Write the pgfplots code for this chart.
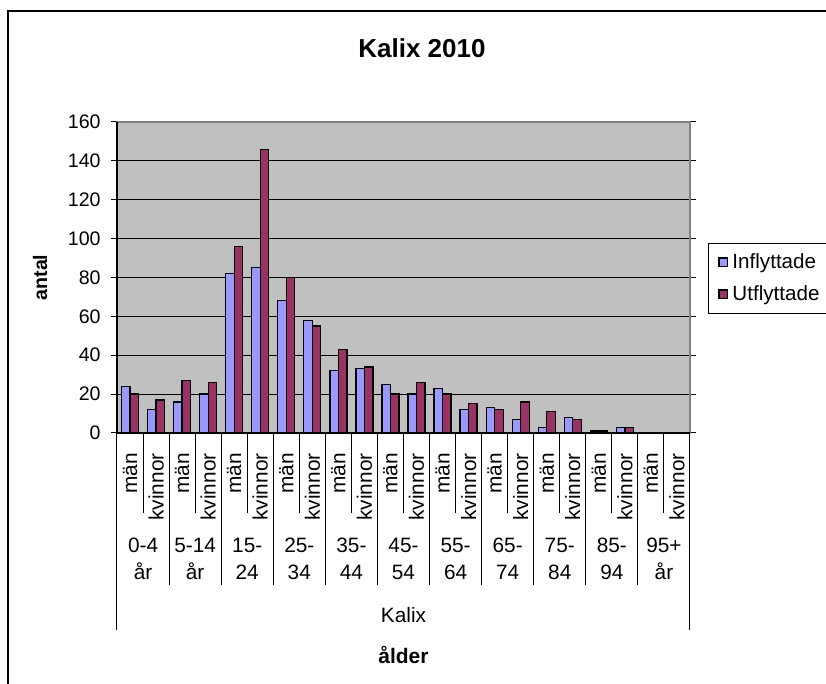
\documentclass[border=0pt]{standalone}
\usepackage{pgfplots}
\pgfplotsset{compat=1.18}
\usepackage{fontspec}
\setmainfont{Liberation Sans}
\definecolor{infl}{HTML}{9999FF}
\definecolor{utfl}{HTML}{993366}
\definecolor{plotbg}{HTML}{C0C0C0}
\definecolor{framegray}{HTML}{808080}
\newcommand\lbl{\fontsize{10.4}{13.5}\selectfont}
\newcommand\ylbl{\fontsize{9.8}{12}\selectfont}
\begin{document}
\begin{tikzpicture}
\clip (0,0) rectangle (413pt,342pt);
\draw[line width=1pt] (4pt,-20pt) rectangle (440pt,336.5pt);
\node[font=\fontsize{13}{15}\selectfont\bfseries] at (211pt,318pt) {Kalix 2010};
\node[font=\fontsize{9.8}{12}\selectfont\bfseries, rotate=90] at (20pt,203.25pt) {antal};
\node[font=\fontsize{10.5}{12}\selectfont\bfseries] at (201.75pt,14.5pt) {ålder};
\begin{axis}[
  at={(58.5pt,125.5pt)}, anchor=south west,
  scale only axis, width=286.5pt, height=155.5pt,
  xmin=-0.5, xmax=21.5, ymin=0, ymax=160,
  ytick={0,20,...,160},
  xtick={0,...,21},
  xticklabels={män,kvinnor,män,kvinnor,män,kvinnor,män,kvinnor,män,kvinnor,män,kvinnor,män,kvinnor,män,kvinnor,män,kvinnor,män,kvinnor,män,kvinnor},
  ybar=0pt, bar width=4.25pt,
  axis background/.style={fill=plotbg},
  ymajorgrids, grid style={black, line width=0.5pt},
  axis line style={draw=framegray, line width=1pt},
  tick align=outside,
  major tick length=3pt,
  ytick style={black, line width=0.5pt},
  xtick style={draw=none},
  /pgf/number format/assume math mode=true,
  yticklabel style={font=\ylbl, inner sep=0pt, xshift=-5pt},
  xticklabel style={font=\lbl, rotate=90, anchor=east, inner sep=0pt, xshift=-7pt},
  clip=false,
  legend style={at={(1.0314,0.611)}, anchor=north west, draw=black, line width=0.5pt,
    font=\fontsize{10.3}{12}\selectfont, row sep=3pt, inner xsep=5pt, inner ysep=3pt, cells={anchor=west}},
  legend image code/.code={\draw[#1, line width=0.6pt, draw=black] (0pt,-2.2pt) rectangle (4.4pt,2.2pt);},
]
\addplot[fill=infl, draw=black, line width=0.65pt] coordinates {
 (0,24) (1,12) (2,16) (3,20) (4,82) (5,85) (6,68) (7,58) (8,32) (9,33)
 (10,25) (11,20) (12,23) (13,12) (14,13) (15,7) (16,3) (17,8) (18,1) (19,3)};
\addplot[fill=utfl, draw=black, line width=0.65pt] coordinates {
 (0,20) (1,17) (2,27) (3,26) (4,96) (5,146) (6,80) (7,55) (8,43) (9,34)
 (10,20) (11,26) (12,20) (13,15) (14,12) (15,16) (16,11) (17,7) (18,1) (19,3)};
\legend{Inflyttade\hspace{20pt},Utflyttade\hspace{20pt}}
\draw[black, line width=0.7pt] (rel axis cs:0,0) -- (rel axis cs:0,1);
\draw[black, line width=0.7pt] (rel axis cs:0,0) -- (rel axis cs:1,0);
\pgfplotsinvokeforeach{0.5,2.5,4.5,6.5,8.5,10.5,12.5,14.5,16.5,18.5,20.5}{
  \draw[black, line width=0.5pt] (axis cs:#1,0) -- ++(0pt,-40pt);}
\pgfplotsinvokeforeach{1.5,3.5,5.5,7.5,9.5,11.5,13.5,15.5,17.5,19.5}{
  \draw[black, line width=0.5pt] (axis cs:#1,0) -- ++(0pt,-76pt);}
\draw[black, line width=0.5pt] (axis cs:-0.5,0) -- ++(0pt,-98.5pt);
\draw[black, line width=0.5pt] (axis cs:21.5,0) -- ++(0pt,-98.5pt);
\node[font=\lbl, align=center] at ([yshift=-62.75pt]axis cs:0.5,0) {0-4\\år};
\node[font=\lbl, align=center] at ([yshift=-62.75pt]axis cs:2.5,0) {5-14\\år};
\node[font=\lbl, align=center] at ([yshift=-62.75pt]axis cs:4.5,0) {15-\\24};
\node[font=\lbl, align=center] at ([yshift=-62.75pt]axis cs:6.5,0) {25-\\34};
\node[font=\lbl, align=center] at ([yshift=-62.75pt]axis cs:8.5,0) {35-\\44};
\node[font=\lbl, align=center] at ([yshift=-62.75pt]axis cs:10.5,0) {45-\\54};
\node[font=\lbl, align=center] at ([yshift=-62.75pt]axis cs:12.5,0) {55-\\64};
\node[font=\lbl, align=center] at ([yshift=-62.75pt]axis cs:14.5,0) {65-\\74};
\node[font=\lbl, align=center] at ([yshift=-62.75pt]axis cs:16.5,0) {75-\\84};
\node[font=\lbl, align=center] at ([yshift=-62.75pt]axis cs:18.5,0) {85-\\94};
\node[font=\lbl, align=center] at ([yshift=-62.75pt]axis cs:20.5,0) {95+\\år};
\node[font=\lbl] at ([yshift=-91pt]axis cs:10.5,0) {Kalix};
\end{axis}
\end{tikzpicture}
\end{document}
